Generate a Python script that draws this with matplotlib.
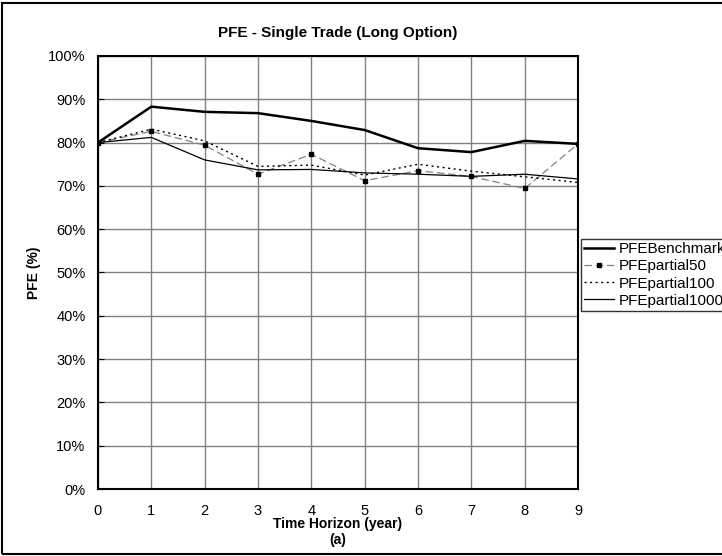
import matplotlib
matplotlib.use("Agg")
import matplotlib.pyplot as plt
from matplotlib.patches import Rectangle
from matplotlib.ticker import PercentFormatter

plt.rcParams['font.family'] = ['Liberation Sans', 'DejaVu Sans']

years = [0, 1, 2, 3, 4, 5, 6, 7, 8, 9]
pfe_benchmark = [80.0, 88.3, 87.1, 86.8, 85.0, 82.9, 78.7, 77.8, 80.4, 79.7]
pfe_partial50 = [80.0, 82.6, 79.4, 72.7, 77.3, 71.2, 73.5, 72.2, 69.4, 79.7]
pfe_partial100 = [80.0, 83.1, 80.4, 74.5, 74.8, 72.5, 75.0, 73.4, 72.1, 70.8]
pfe_partial1000 = [80.0, 81.2, 76.0, 73.7, 73.8, 73.0, 72.7, 72.2, 72.7, 71.6]
yticks = [0, 10, 20, 30, 40, 50, 60, 70, 80, 90, 100]

fig = plt.figure(figsize=(7.22, 5.56), dpi=100)
ax = fig.add_axes([0.1357, 0.1205, 0.6649, 0.7788])

ax.plot(years, pfe_benchmark, color='black', lw=1.8, label='PFEBenchmark')
ax.plot(years, pfe_partial50, color='#808080', lw=0.9, dashes=(6, 3),
        marker='s', markersize=3.5, markerfacecolor='black',
        markeredgecolor='black', label='PFEpartial50')
ax.plot(years, pfe_partial100, color='black', lw=1.0, linestyle=(0, (1.5, 2.5)),
        label='PFEpartial100')
ax.plot(years, pfe_partial1000, color='black', lw=0.9, label='PFEpartial1000')

ax.set_xlim(0, 9)
ax.set_ylim(0, 100)
ax.set_xticks(years)
ax.set_yticks(yticks)
ax.yaxis.set_major_formatter(PercentFormatter(decimals=0))
ax.grid(True, color='#808080', lw=1.0)
ax.set_axisbelow(True)
ax.tick_params(axis='both', direction='in', length=0, labelsize=10.5, pad=11)
ax.tick_params(axis='y', direction='in', length=4, color='black', pad=9)
for s in ax.spines.values():
    s.set_linewidth(1.5)
    s.set_color('black')

ax.set_title('PFE - Single Trade (Long Option)', fontsize=11, fontweight='bold', pad=14)
ax.set_ylabel('PFE (%)', fontsize=10, fontweight='bold', labelpad=5)
ax.set_xlabel('Time Horizon (year)', fontsize=10, fontweight='bold', labelpad=-1)
fig.text(0.468, 0.029, '(a)', ha='center', va='center', fontsize=10, fontweight='bold')

leg = ax.legend(loc='upper left', bbox_to_anchor=(1.002, 0.58), frameon=True,
                fancybox=False, edgecolor='black', fontsize=11, handlelength=2.0,
                borderpad=0.2, labelspacing=0.2, handletextpad=0.3, borderaxespad=0.1)
leg.get_frame().set_linewidth(1.0)

fig.patches.append(Rectangle((0.003, 0.004), 1.1, 0.99, transform=fig.transFigure,
                             fill=False, edgecolor='black', lw=1.5))

fig.savefig('out.png', dpi=100)
